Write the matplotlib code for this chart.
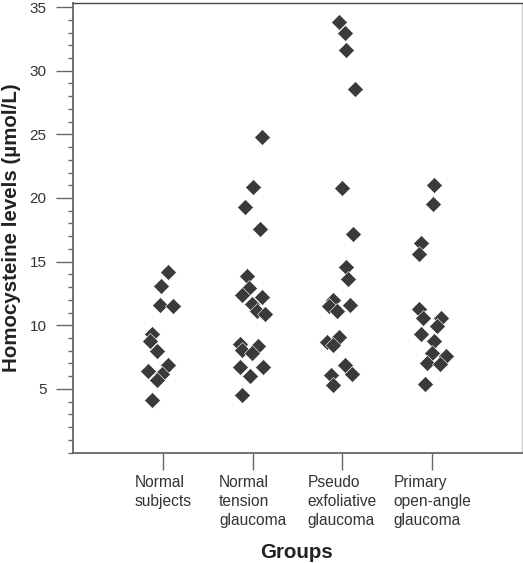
import matplotlib
matplotlib.use("Agg")
import matplotlib.pyplot as plt
from matplotlib.ticker import MultipleLocator, FixedLocator
import numpy as np

plt.rcParams['font.family'] = ['Liberation Sans', 'DejaVu Sans']

categories = ["Normal\nsubjects", "Normal\ntension\nglaucoma",
              "Pseudo\nexfoliative\nglaucoma", "Primary\nopen-angle\nglaucoma"]

ns_vals = [14.2, 13.05, 11.6, 11.5, 9.3, 8.8, 8.0, 6.9, 6.4, 6.2, 5.7, 4.15]
ns_jit = [0.06, -0.02, -0.03, 0.11, -0.12, -0.14, -0.07, 0.06, -0.16, -0.01, -0.07, -0.12]

ntg_vals = [24.8, 20.85, 19.3, 17.55, 13.85, 12.9, 12.4, 12.2, 11.7, 11.1, 10.9,
            8.5, 8.05, 8.4, 7.8, 6.75, 6.75, 6.0, 4.5]
ntg_jit = [0.105, 0.01, -0.08, 0.08, -0.06, -0.04, -0.12, 0.105, -0.01, 0.045, 0.14,
           -0.14, -0.12, 0.065, -0.01, -0.14, 0.12, -0.03, -0.12]

pxf_vals = [33.8, 32.95, 31.6, 28.6, 20.8, 17.2, 14.6, 13.6, 12.0, 11.5, 11.1, 11.6,
            9.1, 8.7, 8.45, 6.9, 6.2, 6.1, 5.3]
pxf_jit = [-0.035, 0.03, 0.04, 0.14, 0.0, 0.12, 0.035, 0.06, -0.11, -0.145, -0.065, 0.09,
           -0.035, -0.175, -0.1, 0.03, 0.105, -0.13, -0.11]

poag_vals = [21.05, 19.5, 16.5, 15.6, 11.25, 10.55, 10.55, 9.95, 9.3, 8.8, 7.85, 7.0,
             7.55, 6.95, 5.4]
poag_jit = [0.02, 0.01, -0.13, -0.15, -0.15, -0.1, 0.095, 0.055, -0.12, 0.025, -0.005,
            -0.06, 0.155, 0.085, -0.08]

groups = [(ns_vals, ns_jit), (ntg_vals, ntg_jit), (pxf_vals, pxf_jit), (poag_vals, poag_jit)]

fig = plt.figure(figsize=(5.23, 5.63), dpi=100)
ax = fig.add_axes([73/523, 1-452.5/563, (522-73)/523, (452.5-3.3)/563])

mcol = '#3a3a3a'
for i, (vals, jit) in enumerate(groups):
    x = (i + 1) + np.array(jit)
    ax.plot(x, vals, linestyle='none', marker='D', markersize=8.4,
            markerfacecolor=mcol, markeredgecolor='white', markeredgewidth=0.4)

ax.set_xlim(0, 5)
ax.set_ylim(0, 35.3)
ax.set_xticks([1, 2, 3, 4])
ax.set_xticklabels(categories, fontsize=11.2, color='#333333', linespacing=1.35,
                   multialignment='left')
ax.yaxis.set_major_locator(FixedLocator([5, 10, 15, 20, 25, 30, 35]))
ax.yaxis.set_minor_locator(MultipleLocator(1))
ax.tick_params(axis='y', which='major', length=12, width=1.0, color='#666666',
               labelsize=11, labelcolor='#333333', pad=7)
ax.tick_params(axis='y', which='minor', length=3.6, width=1.0, color='#666666')
ax.tick_params(axis='x', which='major', length=12, width=1.0, color='#666666', pad=4)

for s in ['left', 'bottom']:
    ax.spines[s].set_color('#666666')
    ax.spines[s].set_linewidth(1.3)
ax.spines['top'].set_color('#444444')
ax.spines['top'].set_linewidth(1.0)
ax.spines['right'].set_color('#cccccc')
ax.spines['right'].set_linewidth(1.0)

ax.set_ylabel("Homocysteine levels (µmol/L)", fontsize=14.8, fontweight='bold',
              color='#222222', labelpad=6)
fig.text(296.7/523, 1-552/563, "Groups", fontsize=14.8, fontweight='bold',
         color='#222222', ha='center', va='center')

fig.savefig("out.png", dpi=100)
